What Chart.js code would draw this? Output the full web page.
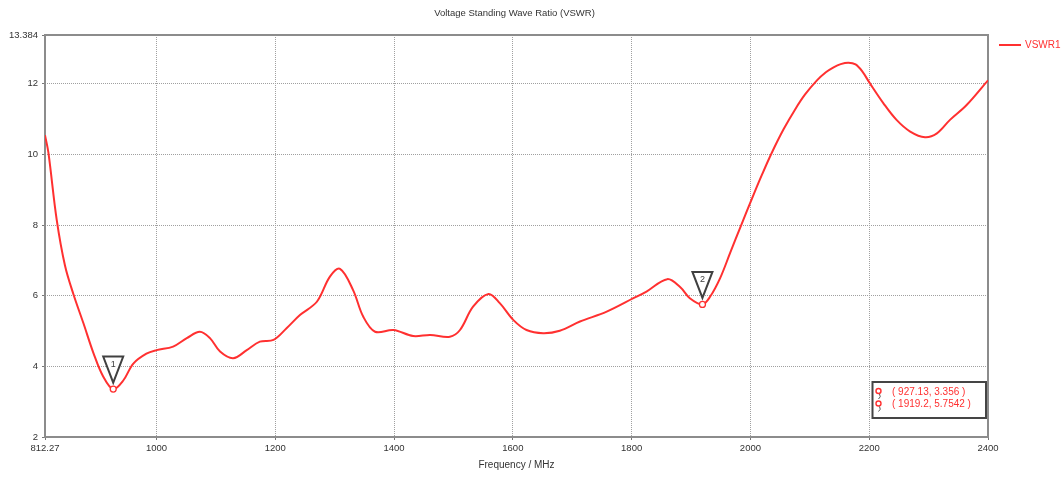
<!DOCTYPE html>
<html>
<head>
<meta charset="utf-8">
<title>VSWR</title>
<script src="https://cdn.jsdelivr.net/npm/chart.js@4.4.1/dist/chart.umd.min.js"></script>
<style>
  html, body { margin: 0; padding: 0; background: #fff; }
  #wrap { width: 1062px; height: 478px; position: relative; }
</style>
</head>
<body>
<div id="wrap"><canvas id="c" width="1062" height="478"></canvas></div>
<script>
// Sweep of VSWR1 against frequency (MHz)
const freqMHz = [
  812.27, 818, 832, 846, 860, 877, 894, 910, 927.13, 944, 961, 983,
  1000, 1028, 1051, 1073, 1090, 1107, 1129, 1152, 1174, 1197, 1219, 1242,
  1270, 1292, 1309, 1331, 1348, 1368, 1399, 1432, 1461, 1494, 1511, 1533,
  1559, 1578, 1601, 1623, 1651, 1679, 1713, 1758, 1803, 1825, 1860, 1882,
  1898, 1919.2, 1932, 1949, 1966, 1984, 2005, 2020, 2036, 2056, 2075, 2092,
  2112, 2127, 2140, 2152, 2165, 2177, 2188, 2201, 2224, 2246, 2269, 2294,
  2314, 2336, 2364, 2400
];
const vswr = [
  10.55, 10.05, 8.15, 6.85, 6.05, 5.22, 4.37, 3.72, 3.356, 3.60, 4.08, 4.36,
  4.46, 4.56, 4.80, 4.98, 4.80, 4.42, 4.23, 4.46, 4.70, 4.75, 5.08, 5.46,
  5.83, 6.54, 6.76, 6.16, 5.41, 4.98, 5.03, 4.86, 4.89, 4.84, 5.03, 5.69,
  6.05, 5.79, 5.31, 5.03, 4.94, 5.01, 5.27, 5.55, 5.93, 6.12, 6.47, 6.24,
  5.93, 5.7542, 5.97, 6.50, 7.22, 7.98, 8.85, 9.45, 10.05, 10.72, 11.27, 11.70,
  12.10, 12.33, 12.47, 12.56, 12.60, 12.55, 12.36, 12.02, 11.45, 10.98, 10.65, 10.49,
  10.60, 10.98, 11.40, 12.10
];

// Axis ticks
const xTickValues = [812.27, 1000, 1200, 1400, 1600, 1800, 2000, 2200, 2400];
const yTickValues = [2, 4, 6, 8, 10, 12, 13.384];

// Markers placed on the trace
const markerFreq = [927.13, 1919.2];
const markerVswr = [3.356, 5.7542];
const markerNames = ['1', '2'];

const seriesName = 'VSWR1';
const chartTitle = 'Voltage Standing Wave Ratio (VSWR)';
const xAxisTitle = 'Frequency / MHz';

const RED = 'rgb(255,48,48)';
const FONT = '"Liberation Sans", Arial, sans-serif';

const points = freqMHz.map((f, i) => ({ x: f, y: vswr[i] }));

const overlay = {
  id: 'overlay',
  beforeDatasetsDraw(chart) {
    const { ctx, chartArea: a } = chart;
    ctx.save();
    ctx.strokeStyle = '#8c8c8c';
    ctx.lineWidth = 2;
    ctx.strokeRect(a.left, a.top, a.right - a.left, a.bottom - a.top);
    ctx.restore();
  },
  afterDatasetsDraw(chart) {
    const { ctx } = chart;
    const xs = chart.scales.x, ys = chart.scales.y;
    ctx.save();
    // marker flags and circles
    markerFreq.forEach((f, i) => {
      const px = xs.getPixelForValue(f);
      const py = ys.getPixelForValue(markerVswr[i]);
      const top = py - 32.5, apex = py - 6.5, hw = 10;
      ctx.beginPath();
      ctx.moveTo(px - hw, top);
      ctx.lineTo(px + hw, top);
      ctx.lineTo(px, apex);
      ctx.closePath();
      ctx.fillStyle = '#fff';
      ctx.fill();
      ctx.strokeStyle = '#404040';
      ctx.lineWidth = 2;
      ctx.lineJoin = 'miter';
      ctx.stroke();
      ctx.fillStyle = '#404040';
      ctx.font = '9px ' + FONT;
      ctx.textAlign = 'center';
      ctx.textBaseline = 'middle';
      ctx.fillText(markerNames[i], px, top + 8);

      ctx.beginPath();
      ctx.arc(px, py, 3, 0, Math.PI * 2);
      ctx.fillStyle = '#fff';
      ctx.fill();
      ctx.strokeStyle = RED;
      ctx.lineWidth = 1.3;
      ctx.stroke();
    });

    // readout box
    const bx = 872.5, by = 382, bw = 113.5, bh = 36;
    ctx.fillStyle = '#fff';
    ctx.fillRect(bx, by, bw, bh);
    ctx.strokeStyle = '#454545';
    ctx.lineWidth = 2;
    ctx.strokeRect(bx, by, bw, bh);
    ctx.font = '10px ' + FONT;
    ctx.textAlign = 'left';
    ctx.textBaseline = 'middle';
    markerFreq.forEach((f, i) => {
      const ly = by + 10 + i * 12.5;
      ctx.beginPath();
      ctx.arc(bx + 6, ly - 1, 2.5, 0, Math.PI * 2);
      ctx.strokeStyle = RED;
      ctx.lineWidth = 1.4;
      ctx.stroke();
      ctx.beginPath();
      ctx.moveTo(bx + 7, ly + 2);
      ctx.quadraticCurveTo(bx + 9, ly + 5, bx + 6, ly + 7);
      ctx.strokeStyle = '#555';
      ctx.lineWidth = 1;
      ctx.stroke();
      ctx.fillStyle = RED;
      ctx.fillText('( ' + f + ', ' + markerVswr[i] + ' )', bx + 19.5, ly);
    });
    ctx.restore();
  },
  afterDraw(chart) {
    const { ctx, chartArea: a } = chart;
    ctx.save();
    // title
    ctx.fillStyle = '#333';
    ctx.font = '9.5px ' + FONT;
    ctx.textAlign = 'center';
    ctx.textBaseline = 'middle';
    ctx.fillText(chartTitle, (a.left + a.right) / 2 - 2, 13);
    // legend
    ctx.strokeStyle = RED;
    ctx.lineWidth = 2;
    ctx.beginPath();
    ctx.moveTo(999, 45);
    ctx.lineTo(1021, 45);
    ctx.stroke();
    ctx.fillStyle = RED;
    ctx.textAlign = 'left';
    ctx.font = '10px ' + FONT;
    ctx.fillText(seriesName, 1025, 45.5);
    ctx.restore();
  }
};

new Chart(document.getElementById('c'), {
  type: 'line',
  data: {
    datasets: [{
      label: seriesName,
      data: points,
      borderColor: RED,
      backgroundColor: RED,
      borderWidth: 2,
      pointRadius: 0,
      tension: 0.35,
      fill: false
    }]
  },
  options: {
    responsive: false,
    animation: false,
    devicePixelRatio: 1,
    layout: { padding: { top: 35, right: 74, left: 0, bottom: 0 } },
    plugins: {
      legend: { display: false },
      title: { display: false },
      tooltip: { enabled: false }
    },
    scales: {
      x: {
        type: 'linear',
        min: 812.27,
        max: 2400,
        afterFit(s) { s.height = 41; },
        afterBuildTicks(s) { s.ticks = xTickValues.map(v => ({ value: v })); },
        ticks: {
          autoSkip: false,
          maxRotation: 0,
          padding: 3,
          color: '#333',
          font: { family: FONT, size: 9.5 },
          callback: v => String(v)
        },
        grid: {
          color: '#a0a0a0',
          lineWidth: 1,
          tickLength: 3,
          tickColor: '#777',
          tickBorderDash: [],
          drawOnChartArea: true
        },
        border: { display: false, dash: [1, 1] },
        title: {
          display: true,
          text: xAxisTitle,
          color: '#333',
          font: { family: FONT, size: 10 },
          padding: { top: 0, bottom: 7 }
        }
      },
      y: {
        type: 'linear',
        min: 2,
        max: 13.384,
        afterFit(s) { s.width = 45; },
        afterBuildTicks(s) { s.ticks = yTickValues.map(v => ({ value: v })); },
        ticks: {
          autoSkip: false,
          padding: 4,
          color: '#333',
          font: { family: FONT, size: 9.5 },
          callback: v => String(v)
        },
        grid: {
          color: '#a0a0a0',
          lineWidth: 1,
          tickLength: 3,
          tickColor: '#777',
          tickBorderDash: []
        },
        border: { display: false, dash: [1, 1] }
      }
    }
  },
  plugins: [overlay]
});
</script>
</body>
</html>
